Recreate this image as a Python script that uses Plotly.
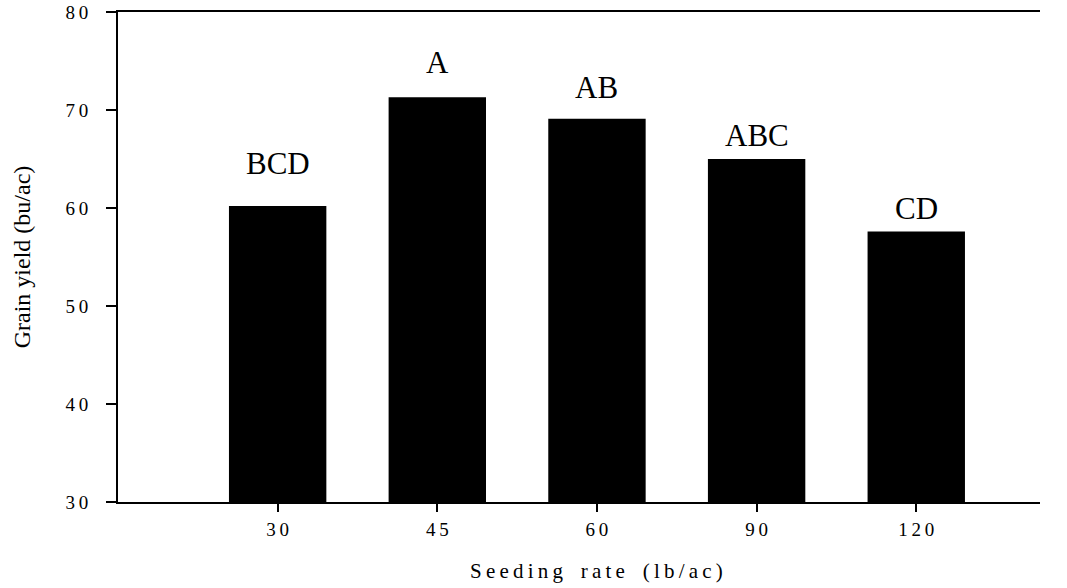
import plotly.graph_objects as go

# Seeding-rate trial: mean grain yield per rate with mean-separation letters
seeding_rates = ["30", "45", "60", "90", "120"]
grain_yield = [60.2, 71.3, 69.1, 65.0, 57.6]
letters = ["BCD", "A", "AB", "ABC", "CD"]

# vertical placement of each letter group (data units)
letter_y = [64.5, 74.8, 72.3, 67.4, 60.0]

y_ticks = [30, 40, 50, 60, 70, 80]

TS = "\u2009"  # thin space used to spread characters


def spread(s):
    out = []
    for ch in s:
        out.append("\u00a0" + TS if ch == " " else ch)
    return TS.join(out)


pos = list(range(len(seeding_rates)))
serif = "Liberation Serif"

fig = go.Figure()
fig.add_trace(go.Bar(
    x=pos,
    y=[v - 30 for v in grain_yield],
    base=30,
    width=0.61,
    marker=dict(color="black", line=dict(width=0)),
    hoverinfo="skip",
))

for p, lab, ly in zip(pos, letters, letter_y):
    fig.add_annotation(x=p, y=ly, text=lab, showarrow=False,
                       xanchor="center", yanchor="middle",
                       font=dict(family=serif, size=31, color="black"))

fig.add_annotation(x=2, xref="x", y=-0.141, yref="paper",
                   text=spread("Seeding rate (lb/ac)"), showarrow=False,
                   xanchor="center", yanchor="middle",
                   font=dict(family=serif, size=21, color="black"))

fig.update_layout(
    width=1067, height=588,
    margin=dict(l=118, r=27, t=12, b=86, autoexpand=False),
    paper_bgcolor="white", plot_bgcolor="white",
    showlegend=False,
    font=dict(family=serif, color="black"),
)
fig.update_xaxes(
    range=[-1, 4.775], automargin=False,
    tickmode="array", tickvals=pos, ticktext=[spread(s) for s in seeding_rates],
    ticks="outside", ticklen=8, tickwidth=2, tickcolor="black",
    showline=True, linewidth=2, linecolor="black", mirror=True,
    showgrid=False, zeroline=False,
    tickfont=dict(family=serif, size=19, color="black"),
    ticklabelstandoff=1,
)
fig.update_yaxes(
    range=[30, 80], automargin=False,
    tickmode="array", tickvals=y_ticks, ticktext=[spread(str(t)) for t in y_ticks],
    ticks="outside", ticklen=10, tickwidth=2, tickcolor="black",
    showline=True, linewidth=2, linecolor="black",
    showgrid=False, zeroline=False,
    tickfont=dict(family=serif, size=19, color="black"),
    ticklabelstandoff=14,
    title=dict(text="Grain yield (bu/ac)", standoff=28,
               font=dict(family=serif, size=24, color="black")),
)

fig.write_html("out.html")
